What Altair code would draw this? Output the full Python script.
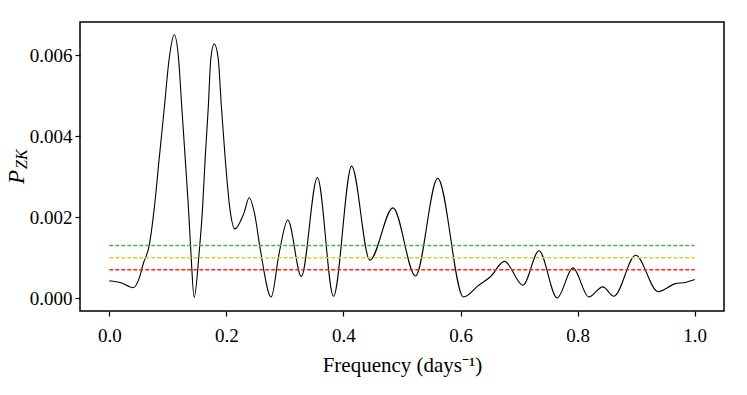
import altair as alt
import pandas as pd

freq = [0.0, 0.02, 0.041, 0.051, 0.058, 0.0683, 0.0768, 0.0853, 0.0939, 0.1024,
        0.111, 0.1183, 0.124, 0.1297, 0.1353, 0.1394, 0.145, 0.1536, 0.1593, 0.1638,
        0.169, 0.1735, 0.1792, 0.186, 0.1917, 0.198, 0.206, 0.2145, 0.23, 0.239,
        0.248, 0.258, 0.2765, 0.29, 0.305, 0.328, 0.3555, 0.383, 0.414, 0.445,
        0.4846, 0.523, 0.561, 0.605, 0.631, 0.651, 0.675, 0.7065, 0.734, 0.765,
        0.792, 0.819, 0.843, 0.862, 0.899, 0.9375, 0.967, 0.984, 1.0]
power = [0.00043, 0.00038, 0.00026, 0.00049, 0.00085, 0.00131, 0.00221, 0.00345, 0.00468, 0.00592,
         0.00650, 0.00592, 0.00468, 0.00345, 0.00221, 0.00114, 0.00002, 0.00114, 0.00221, 0.00345,
         0.00468, 0.00592, 0.00628, 0.00592, 0.00468, 0.00345, 0.00221, 0.00171, 0.0021, 0.00248,
         0.0021, 0.0012, 0.00003, 0.0011, 0.00193, 0.00054, 0.00298, 0.00005, 0.00326, 0.00094,
         0.00223, 0.00055, 0.00296, 0.00003, 0.00032, 0.00053, 0.00091, 0.00032, 0.00117, 0.00001,
         0.00075, 0.00003, 0.00028, 0.00005, 0.00106, 0.00016, 0.00036, 0.00039, 0.00046]

levels = [0.0013, 0.001, 0.0007]
level_names = ["green", "yellow", "red"]
level_colors = ["#4fae4f", "#d8d030", "#ff2020"]
level_start = [0.0, 0.0, 0.0]
level_end = [1.0, 1.0, 1.0]

x_ticks = [0.0, 0.2, 0.4, 0.6, 0.8, 1.0]
y_ticks = [0.0, 0.002, 0.004, 0.006]

FONT = "Liberation Serif"

df = pd.DataFrame({"f": freq, "p": power})
lv = pd.DataFrame({"name": level_names, "level": levels, "x0": level_start, "x1": level_end})

xs = alt.Scale(domain=[-0.05, 1.05], nice=False, zero=False)
ys = alt.Scale(domain=[-0.000315, 0.006815], nice=False, zero=False)

line = alt.Chart(df).mark_line(color="black", strokeWidth=1.1, interpolate="monotone").encode(
    x=alt.X("f:Q", scale=xs,
            axis=alt.Axis(values=x_ticks, format=".1f", title="Frequency (days⁻¹)")),
    y=alt.Y("p:Q", scale=ys,
            axis=alt.Axis(values=y_ticks, format=".3f", title=None)),
)

rules = alt.Chart(lv).mark_rule(strokeDash=[4, 2], strokeWidth=1.5).encode(
    x=alt.X("x0:Q", scale=xs),
    x2="x1:Q",
    y=alt.Y("level:Q", scale=ys),
    color=alt.Color("name:N", scale=alt.Scale(domain=level_names, range=level_colors), legend=None),
)

ytitle_p = alt.Chart(pd.DataFrame({"t": ["P"]})).mark_text(
    angle=270, align="left", baseline="alphabetic", font=FONT, fontStyle="italic",
    fontWeight="normal", fontSize=23, color="black"
).encode(text="t:N", x=alt.value(-56), y=alt.value(162))

ytitle_zk = alt.Chart(pd.DataFrame({"t": ["ZK"]})).mark_text(
    angle=270, align="left", baseline="alphabetic", font=FONT, fontStyle="italic",
    fontWeight="normal", fontSize=16, color="black"
).encode(text="t:N", x=alt.value(-53), y=alt.value(147))

chart = alt.layer(line, rules, ytitle_p, ytitle_zk).properties(
    width=644, height=289,
    autosize=alt.AutoSizeParams(type="none"),
    padding={"left": 72, "top": 14, "right": 15, "bottom": 76},
).configure_view(
    stroke="black", strokeWidth=1.5
).configure_axis(
    grid=False, domain=False, tickColor="black", tickSize=5, tickWidth=1.2,
    labelFont=FONT, labelFontSize=19, labelColor="black",
    titleFont=FONT, titleFontSize=21, titleColor="black", titleFontWeight="normal",
).configure_axisX(
    labelPadding=10, titlePadding=9,
).configure_axisY(
    labelPadding=3,
)

chart.save("out.html", embed_options={"renderer": "svg", "actions": False})
